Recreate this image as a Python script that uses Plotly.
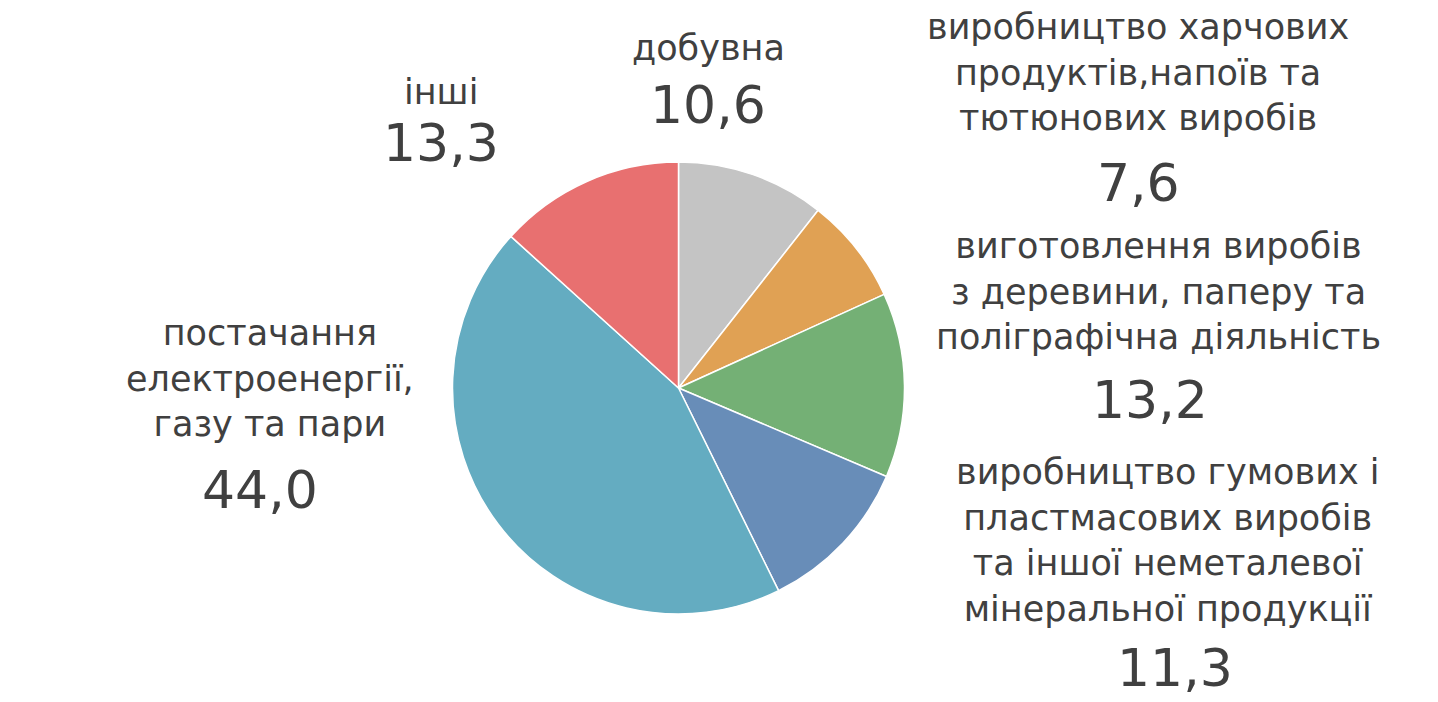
import plotly.graph_objects as go

labels = ["добувна",
          "виробництво харчових<br>продуктів,напоїв та<br>тютюнових виробів",
          "виготовлення виробів<br>з деревини, паперу та<br>поліграфічна діяльність",
          "виробництво гумових і<br>пластмасових виробів<br>та іншої неметалевої<br>мінеральної продукції",
          "постачання<br>електроенергії,<br>газу та пари",
          "інші"]
values = [10.6, 7.6, 13.2, 11.3, 44.0, 13.3]
value_text = ["10,6", "7,6", "13,2", "11,3", "44,0", "13,3"]
colors = ["#C4C4C4", "#E0A154", "#74B075", "#688DB8", "#64ACC1", "#E87070"]

W, H = 1438, 702
OFF = 8  # page body margin
# label placement (pixel centres in the screenshot)
name_pos = [(708, 48), (1138, 73), (1158, 291), (1167, 540), (270, 378), (441, 92)]
num_pos = [(708, 105), (1138, 183), (1150, 400), (1175, 668), (260, 490), (441, 143)]


def px(x, y):
    return (x - OFF) / W, 1 - (y - OFF) / H


fig = go.Figure(go.Pie(
    labels=labels, values=values, sort=False, direction="clockwise", rotation=0,
    marker=dict(colors=colors, line=dict(color="white", width=1.5)),
    textinfo="none", hoverinfo="label+value", showlegend=False,
    domain=dict(x=[(452 - OFF) / W, (905 - OFF) / W],
                y=[1 - (614 - OFF) / H, 1 - (162 - OFF) / H]),
))

anns = []
for lab, (x, y) in zip(labels, name_pos):
    xp, yp = px(x, y)
    anns.append(dict(text=lab, x=xp, y=yp, xref="paper", yref="paper",
                     xanchor="center", yanchor="middle", showarrow=False,
                     font=dict(family="DejaVu Sans", size=35, color="#404040")))
for t, (x, y) in zip(value_text, num_pos):
    xp, yp = px(x, y)
    anns.append(dict(text=t, x=xp, y=yp, xref="paper", yref="paper",
                     xanchor="center", yanchor="middle", showarrow=False,
                     font=dict(family="DejaVu Sans", size=52, color="#404040")))

fig.update_layout(width=W, height=H, margin=dict(l=0, r=0, t=0, b=0),
                  paper_bgcolor="white", plot_bgcolor="white", annotations=anns)
fig.write_html("out.html")
